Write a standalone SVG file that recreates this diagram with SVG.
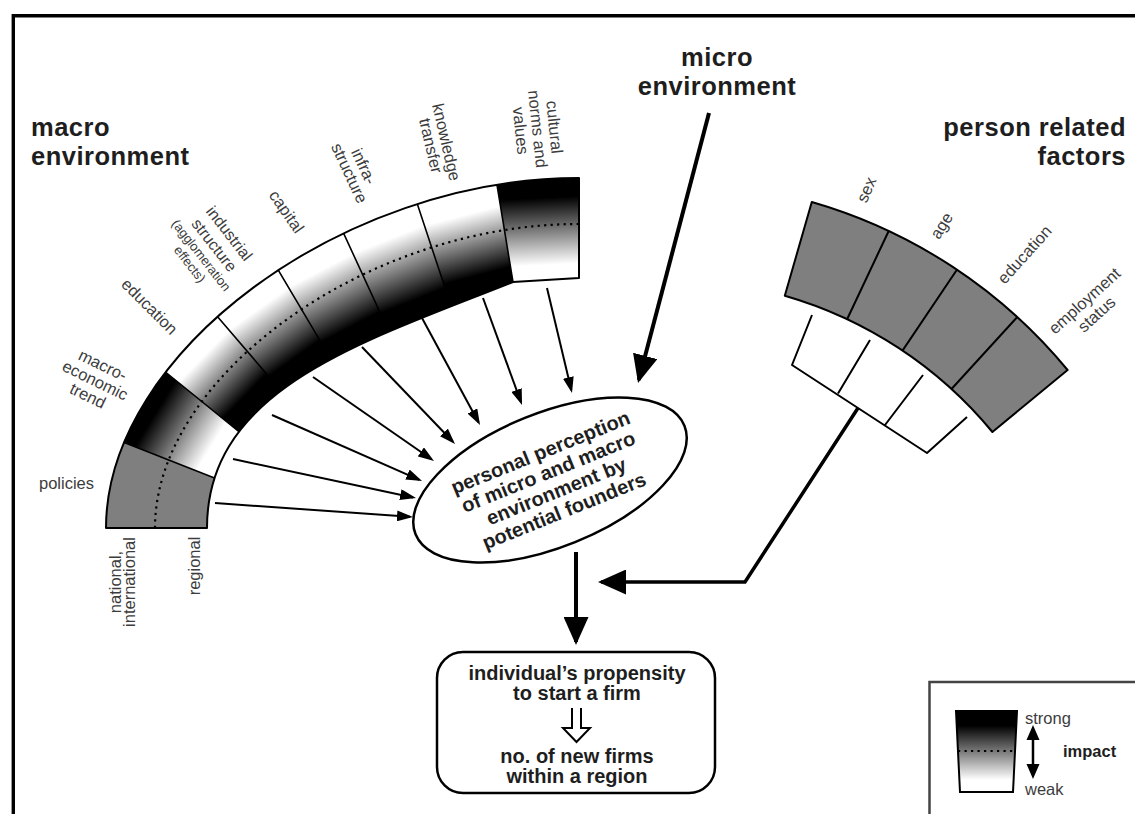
<svg xmlns="http://www.w3.org/2000/svg" width="1135" height="814" viewBox="0 0 1135 814">
<defs>
<style>
text{font-family:"Liberation Sans",Arial,Helvetica,sans-serif}
.title{font-size:25.5px;font-weight:bold;fill:#1e1e1e;letter-spacing:0.5px}
.lbl{font-size:16.5px;fill:#3c3c3c}
.sm{font-size:13px;fill:#3c3c3c}
.bold{font-size:20px;font-weight:bold;fill:#1e1e1e}
.edge{fill:none;stroke:#000;stroke-width:2;stroke-linejoin:round}
.thin{fill:none;stroke:#000;stroke-width:1.6}
.dots{fill:none;stroke:#000;stroke-width:2.2;stroke-dasharray:2.2 4.3}
.arr{fill:none;stroke:#000;stroke-width:2;marker-end:url(#ah)}
.big{fill:none;stroke:#000;stroke-width:4;marker-end:url(#ahb)}
.grey{fill:#7f7f7f}
</style>
<marker id="ah" markerUnits="userSpaceOnUse" markerWidth="16" markerHeight="11" refX="13" refY="5.5" orient="auto" viewBox="0 0 16 11"><path d="M0,0 L16,5.5 L0,11 Z" fill="#000"/></marker>
<marker id="ahb" markerUnits="userSpaceOnUse" markerWidth="28" markerHeight="25" refX="25" refY="12.5" orient="auto" viewBox="0 0 28 25"><path d="M0,0 L28,12.5 L0,25 Z" fill="#000"/></marker>
<clipPath id="band"><path d="M106,528 C106,353 342,178 579,178 L579,278 L513,282 C363,342 207,388 207,528 Z"/></clipPath>
<linearGradient id="wb"><stop offset="0" stop-color="#fff"/><stop offset="0.22" stop-color="#fff"/><stop offset="0.8" stop-color="#000"/><stop offset="1" stop-color="#000"/></linearGradient>
<linearGradient id="bw"><stop offset="0" stop-color="#000"/><stop offset="0.18" stop-color="#000"/><stop offset="0.85" stop-color="#fff"/><stop offset="1" stop-color="#fff"/></linearGradient>
<linearGradient id="g1" href="#bw" gradientUnits="userSpaceOnUse" x1="141" y1="403" x2="224" y2="454"/>
<linearGradient id="g2" href="#wb" gradientUnits="userSpaceOnUse" x1="188" y1="341" x2="259" y2="410"/>
<linearGradient id="g3" href="#wb" gradientUnits="userSpaceOnUse" x1="245" y1="290" x2="306" y2="376"/>
<linearGradient id="g4" href="#wb" gradientUnits="userSpaceOnUse" x1="309" y1="249" x2="360" y2="347"/>
<linearGradient id="g5" href="#wb" gradientUnits="userSpaceOnUse" x1="379" y1="216" x2="421" y2="322"/>
<linearGradient id="g6" href="#wb" gradientUnits="userSpaceOnUse" x1="456" y1="193" x2="483" y2="296"/>
<linearGradient id="g7" href="#bw" gradientUnits="userSpaceOnUse" x1="540" y1="180" x2="545" y2="280"/>
<linearGradient id="gl" href="#bw" gradientUnits="userSpaceOnUse" x1="0" y1="711" x2="0" y2="792"/>
</defs>

<rect width="1135" height="814" fill="#fff"/>
<g id="frame">
<path d="M12,15.7 H1135" stroke="#000" stroke-width="3.6" fill="none"/>
<path d="M13.3,14 V814" stroke="#000" stroke-width="3.4" fill="none"/>
</g>

<g id="macro-environment">
<text class="title" x="31" y="136">macro</text>
<text class="title" x="31" y="165">environment</text>
<g clip-path="url(#band)">
<polygon class="grey" points="60,560 60,420 96.3,431.5 238.7,487.5 260,560"/>
<polygon fill="url(#g1)" points="96.3,431.5 238.7,487.5 259.2,448 140.8,352"/>
<polygon fill="url(#g2)" points="140.8,352 259.2,448 303.1,416.4 195.9,291.6"/>
<polygon fill="url(#g3)" points="195.9,291.6 303.1,416.4 347.2,386.3 260.8,240.7"/>
<polygon fill="url(#g4)" points="260.8,240.7 347.2,386.3 404.1,364.6 328.9,201.4"/>
<polygon fill="url(#g5)" points="328.9,201.4 404.1,364.6 462.5,340.8 406.5,171.2"/>
<polygon fill="url(#g6)" points="406.5,171.2 462.5,340.8 517.8,311.1 492.2,155.9"/>
<polygon fill="url(#g7)" points="492.2,155.9 517.8,311.1 600,311 600,150"/>
<path class="dots" d="M155,528 C155,376 367,224 579,224"/>
<path class="thin" d="M96.3,431.5 L238.7,487.5 M140.8,352 L259.2,448 M195.9,291.6 L303.1,416.4 M260.8,240.7 L347.2,386.3 M328.9,201.4 L404.1,364.6 M406.5,171.2 L462.5,340.8 M492.2,155.9 L517.8,311.1"/>
</g>
<path class="edge" d="M106,528 C106,353 342,178 579,178 L579,278 L513,282 C363,342 207,388 207,528 Z"/>
<text class="lbl" x="39" y="489">policies</text>
<g class="lbl" text-anchor="middle" transform="translate(95,381) rotate(26)"><text y="-12">macro-</text><text y="5">economic</text><text y="22">trend</text></g>
<text class="lbl" text-anchor="middle" transform="translate(149,307) rotate(45)" y="5">education</text>
<g text-anchor="middle" transform="translate(208,250) rotate(52)"><text class="lbl" style="font-size:16px" y="-21.5">industrial</text><text class="lbl" style="font-size:16px" y="-2.5">structure</text><text class="sm" y="13">(agglomeration</text><text class="sm" y="27.5">effects)</text></g>
<text class="lbl" text-anchor="middle" transform="translate(286,212) rotate(55)" y="5">capital</text>
<g class="lbl" text-anchor="middle" transform="translate(356,170) rotate(65)"><text y="-3">infra-</text><text y="13">structure</text></g>
<g class="lbl" text-anchor="middle" transform="translate(438,144) rotate(77)"><text y="-3">knowledge</text><text y="13">transfer</text></g>
<g class="lbl" text-anchor="middle" transform="translate(537,129) rotate(84)"><text y="-12">cultural</text><text y="5">norms and</text><text y="22">values</text></g>
<text class="lbl" text-anchor="middle" transform="translate(121,582) rotate(-90)">national,</text>
<text class="lbl" text-anchor="middle" transform="translate(135,582) rotate(-90)">international</text>
<text class="lbl" text-anchor="middle" transform="translate(200,566) rotate(-90)">regional</text>
</g>

<g id="micro-environment">
<text class="title" text-anchor="middle" x="717" y="66">micro</text>
<text class="title" text-anchor="middle" x="717" y="95">environment</text>
</g>

<g id="person-related-factors">
<text class="title" text-anchor="end" x="1126" y="136">person related</text>
<text class="title" text-anchor="end" x="1126" y="165">factors</text>
<path class="grey" d="M811.8,202 A517.5,517.5 0 0 1 1067.6,370 L992.4,432 A420,420 0 0 0 784.8,295.7 Z"/>
<path class="edge" d="M811.8,202 A517.5,517.5 0 0 1 1067.6,370 L992.4,432 A420,420 0 0 0 784.8,295.7 Z M888.7,231 L847.1,319.2 M956.9,269.7 L902.5,350.6 M1017.3,317 L951.5,389"/>
<path class="edge" d="M812,315 L792,365 L927,453 L967,417 M870,340 L838,393.5 M923,375 L885,425"/>
<text class="lbl" text-anchor="middle" transform="translate(867,190) rotate(-67)" y="5">sex</text>
<text class="lbl" text-anchor="middle" transform="translate(942,226) rotate(-58)" y="5">age</text>
<text class="lbl" text-anchor="middle" transform="translate(1025,255) rotate(-48)" y="5">education</text>
<g class="lbl" text-anchor="middle" transform="translate(1091,308) rotate(-42)"><text y="-4">employment</text><text y="14">status</text></g>
</g>

<g id="perception">
<ellipse cx="550" cy="480" rx="145" ry="67" transform="rotate(-22 550 480)" fill="#fff" stroke="#000" stroke-width="2.5"/>
<g class="bold" text-anchor="middle" transform="translate(552,481) rotate(-22)"><text y="-24">personal perception</text><text y="-3">of micro and macro</text><text y="18">environment by</text><text y="39">potential founders</text></g>
</g>

<g id="propensity">
<rect x="437" y="652" width="278" height="141" rx="26" ry="26" fill="#fff" stroke="#000" stroke-width="2.5"/>
<g class="bold" text-anchor="middle"><text x="577" y="680">individual’s propensity</text><text x="577" y="700">to start a firm</text><text x="577" y="763">no. of new firms</text><text x="577" y="783">within a region</text></g>
<path d="M572,708 V728 H563 L576.5,742 L590,728 H581 V708" fill="none" stroke="#000" stroke-width="2"/>
</g>

<g id="legend">
<path d="M929.5,816 V682 H1137" fill="none" stroke="#444" stroke-width="2.5"/>
<path d="M956,711 H1017 L1013,792 H960 Z" fill="url(#gl)" stroke="#000" stroke-width="2"/>
<path class="dots" d="M958,751 H1015"/>
<path d="M1033,738 V766" stroke="#000" stroke-width="2.5"/>
<path d="M1033,725 L1039.5,740 L1026.5,740 Z M1033,779 L1039.5,764 L1026.5,764 Z" fill="#000"/>
<text class="lbl" x="1025" y="724">strong</text>
<text class="lbl" x="1025" y="795">weak</text>
<text class="lbl" style="font-weight:bold;fill:#1e1e1e" x="1063" y="757">impact</text>
</g>

<g id="connectors">
<path class="arr" d="M215,503 L410,516.8"/>
<path class="arr" d="M233,459 L413.1,497.4"/>
<path class="arr" d="M272,415 L419.3,479.8"/>
<path class="arr" d="M313,377 L431.5,459.3"/>
<path class="arr" d="M362,347 L452.9,441.8"/>
<path class="arr" d="M422,318 L478.6,422.4"/>
<path class="arr" d="M483,298 L521,402.2"/>
<path class="arr" d="M547,288 L571.3,390.1"/>
<path class="big" d="M709,113 L638.8,380.1"/>
<path class="big" d="M576,552 L576,642"/>
<path class="big" style="stroke-width:3.5" d="M858,408 L745,582 L601,582"/>
</g>
</svg>
